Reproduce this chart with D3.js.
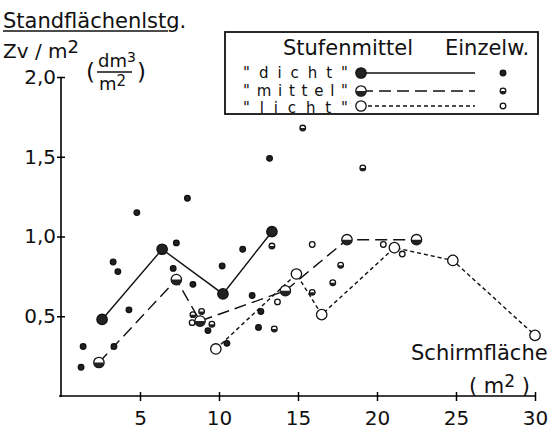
<!DOCTYPE html>
<html>
<head>
<meta charset="utf-8">
<script src="https://cdn.jsdelivr.net/npm/d3@7.9.0/dist/d3.min.js"></script>
<style>
  body { margin: 0; background: #fff; }
  text { font-family: "DejaVu Sans", sans-serif; fill: #111; }
</style>
</head>
<body>
<div id="chart"></div>
<script>
// Stufenmittel (group means), [Schirmfläche m2, Standflächenleistung]
const dichtMean = [[2.6, 0.48], [6.4, 0.92], [10.25, 0.64], [13.35, 1.03]];
const mittelMean = [[2.4, 0.21], [7.3, 0.73], [8.8, 0.47], [14.2, 0.66], [18.1, 0.98], [22.5, 0.98]];
const lichtMean = [[9.8, 0.295], [14.9, 0.765], [16.5, 0.51], [21.1, 0.93], [24.8, 0.85], [30, 0.38]];

// Einzelwerte (single values)
const dichtSingle = [
  [8.0, 1.24], [4.8, 1.15], [7.3, 0.96], [3.3, 0.84], [3.6, 0.78], [7.1, 0.80],
  [8.35, 0.70], [4.3, 0.54], [1.4, 0.31], [1.27, 0.18], [3.35, 0.31], [9.3, 0.41],
  [13.2, 1.49], [11.5, 0.92], [10.2, 0.815], [12.1, 0.63], [12.65, 0.53], [12.5, 0.43], [10.5, 0.33]
];
const mittelSingle = [
  [15.3, 1.68], [19.1, 1.43], [13.35, 0.94], [17.7, 0.82], [17.2, 0.71], [15.9, 0.65],
  [13.5, 0.42], [8.35, 0.51], [8.9, 0.53], [9.55, 0.45]
];
const lichtSingle = [[15.9, 0.95], [13.7, 0.59], [20.4, 0.95], [21.6, 0.89], [8.3, 0.46]];

const xTicks = [5, 10, 15, 20, 25, 30];
const yTicks = [0.5, 1.0, 1.5, 2.0];

const width = 551, height = 429;

const svg = d3.select('#chart').append('svg')
  .attr('width', width)
  .attr('height', height);

const x = d3.scaleLinear().domain([0, 30]).range([61, 535]);
const y = d3.scaleLinear().domain([0, 2]).range([396, 77]);
const comma = d => d3.format('.1f')(d).replace('.', ',');

// axes
const xAxis = svg.append('g')
  .attr('transform', `translate(0,${y(0)})`)
  .call(d3.axisBottom(x).tickValues(xTicks).tickSize(5).tickSizeOuter(0).tickPadding(10).tickFormat(d3.format('d')));
xAxis.selectAll('line').attr('y1', -4).attr('stroke-width', 1.5);
xAxis.select('.domain').attr('stroke-width', 1.6).attr('d', `M${x(0) - 2},0H${x(30)}`);
xAxis.selectAll('text').style('font-size', '20px').style('font-family', '"DejaVu Sans", sans-serif').attr('fill', '#111');

const yAxis = svg.append('g')
  .attr('transform', `translate(${x(0)},0)`)
  .call(d3.axisLeft(y).tickValues(yTicks).tickSize(4).tickSizeOuter(0).tickPadding(1).tickFormat(comma));
yAxis.selectAll('line').attr('x2', -4).attr('x1', 4).attr('stroke-width', 1.5);
yAxis.select('.domain').attr('stroke-width', 1.6).attr('d', `M0,${y(0) + 1}V${y(2)}`);
yAxis.selectAll('text').style('font-size', '20px').style('font-family', '"DejaVu Sans", sans-serif').attr('fill', '#111');

// series lines
const line = d3.line().x(d => x(d[0])).y(d => y(d[1]));
svg.append('path').datum(dichtMean).attr('d', line)
  .attr('fill', 'none').attr('stroke', '#111').attr('stroke-width', 1.4);
svg.append('path').datum(mittelMean).attr('d', line)
  .attr('fill', 'none').attr('stroke', '#111').attr('stroke-width', 1.4).attr('stroke-dasharray', '12,6');
svg.append('path').datum(lichtMean).attr('d', line)
  .attr('fill', 'none').attr('stroke', '#111').attr('stroke-width', 1.4).attr('stroke-dasharray', '4,3');

function halfPath(cx, cy, r) {
  return `M${cx - r},${cy}A${r},${r} 0 0 0 ${cx + r},${cy}Z`;
}

function drawMarks(g, data, kind, r) {
  const sel = g.selectAll(null).data(data).join('g');
  sel.append('circle')
    .attr('cx', d => x(d[0])).attr('cy', d => y(d[1])).attr('r', r)
    .attr('fill', kind === 'dicht' ? '#222' : '#fff')
    .attr('stroke', '#111').attr('stroke-width', 1.3);
  if (kind === 'mittel') {
    sel.append('path').attr('d', d => halfPath(x(d[0]), y(d[1]), r)).attr('fill', '#222');
  }
}

const marks = svg.append('g');
drawMarks(marks, dichtSingle, 'dicht', 2.8);
drawMarks(marks, mittelSingle, 'mittel', 2.8);
drawMarks(marks, lichtSingle, 'licht', 2.8);
drawMarks(marks, dichtMean, 'dicht', 5.2);
drawMarks(marks, mittelMean, 'mittel', 5.2);
drawMarks(marks, lichtMean, 'licht', 5.2);

// titles
svg.append('text').attr('x', 3).attr('y', 28).style('font-size', '21px').text('Standflächenlstg.');
svg.append('line').attr('x1', 3).attr('x2', 168).attr('y1', 31).attr('y2', 31)
  .attr('stroke', '#111').attr('stroke-width', 1.5);

const zv = svg.append('text').attr('x', 3).attr('y', 58).style('font-size', '20px');
zv.append('tspan').text('Zv / m');
zv.append('tspan').attr('dy', -5).style('font-size', '18px').text('2');

svg.append('text').attr('x', 86).attr('y', 80).style('font-size', '23px').text('(');
const dm = svg.append('text').attr('x', 98).attr('y', 67).style('font-size', '18px');
dm.append('tspan').text('dm');
dm.append('tspan').attr('dy', -5).style('font-size', '14px').text('3');
svg.append('line').attr('x1', 97).attr('x2', 132).attr('y1', 72).attr('y2', 72)
  .attr('stroke', '#111').attr('stroke-width', 1.5);
const m2 = svg.append('text').attr('x', 99).attr('y', 90).style('font-size', '18px');
m2.append('tspan').text('m');
m2.append('tspan').attr('dy', -4).style('font-size', '15px').text('2');
svg.append('text').attr('x', 137).attr('y', 80).style('font-size', '23px').text(')');

svg.append('text').attr('x', 411).attr('y', 360).style('font-size', '21px').text('Schirmfläche');
const mm = svg.append('text').attr('x', 469).attr('y', 393).style('font-size', '21px');
mm.append('tspan').text('( m');
mm.append('tspan').attr('dy', -6).style('font-size', '17px').text('2');
mm.append('tspan').attr('dy', 6).text(' )');

// legend
const legendRows = ['"dicht"', '"mittel"', '"licht"'];
const legendKinds = ['dicht', 'mittel', 'licht'];
const legendDash = [null, '12,6', '4,3'];
const rowY = [73, 91, 106];
const rowBase = [78, 96, 113];

const lg = svg.append('g');
lg.append('text').attr('x', 283).attr('y', 55).style('font-size', '21px').text('Stufenmittel');
lg.append('text').attr('x', 445).attr('y', 55).style('font-size', '21px').text('Einzelw.');
legendRows.forEach((label, i) => {
  lg.append('text').attr('x', 243).attr('y', rowBase[i]).style('font-size', '15px')
    .attr('textLength', 105).attr('lengthAdjust', 'spacing').text(label);
  const ln = lg.append('line').attr('x1', 361).attr('x2', 475).attr('y1', rowY[i]).attr('y2', rowY[i])
    .attr('stroke', '#111').attr('stroke-width', 1.4);
  if (legendDash[i]) ln.attr('stroke-dasharray', legendDash[i]);
});
const lgScaleX = d3.scaleLinear().domain([0, 1]).range([361, 503]);
const lgMarks = lg.append('g');
legendKinds.forEach((k, i) => {
  const big = lgMarks.append('g');
  const cx = lgScaleX(0), cy = rowY[i];
  big.append('circle').attr('cx', cx).attr('cy', cy).attr('r', 5.2)
    .attr('fill', k === 'dicht' ? '#222' : '#fff').attr('stroke', '#111').attr('stroke-width', 1.3);
  if (k === 'mittel') big.append('path').attr('d', halfPath(cx, cy, 5.2)).attr('fill', '#222');
  const sx = lgScaleX(1);
  big.append('circle').attr('cx', sx).attr('cy', cy).attr('r', 2.8)
    .attr('fill', k === 'dicht' ? '#222' : '#fff').attr('stroke', '#111').attr('stroke-width', 1.3);
  if (k === 'mittel') big.append('path').attr('d', halfPath(sx, cy, 2.8)).attr('fill', '#222');
});
lg.append('rect').attr('x', 225).attr('y', 32).attr('width', 313).attr('height', 82)
  .attr('fill', 'none').attr('stroke', '#111').attr('stroke-width', 1.8);
</script>
</body>
</html>
